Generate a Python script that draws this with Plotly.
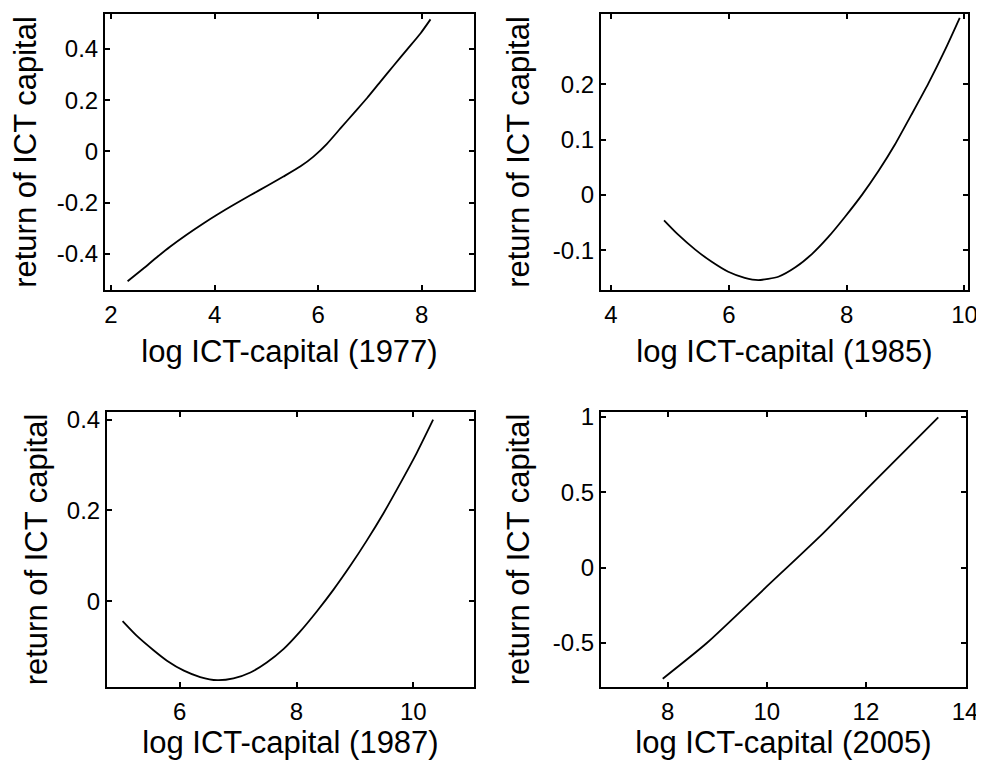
import plotly.graph_objects as go
from plotly.subplots import make_subplots

# ---- data ----
x_1977 = [2.32, 2.62, 2.88, 3.14, 3.46, 3.79, 4.04, 4.37, 4.69, 5.01, 5.33, 5.66, 5.91, 6.17, 6.43, 6.69, 6.95, 7.20, 7.46, 7.72, 7.98, 8.17]
y_1977 = [-0.507, -0.458, -0.414, -0.372, -0.325, -0.280, -0.248, -0.208, -0.171, -0.135, -0.098, -0.058, -0.020, 0.030, 0.090, 0.150, 0.210, 0.272, 0.336, 0.399, 0.462, 0.516]

x_1985 = [4.90, 5.14, 5.43, 5.71, 5.99, 6.27, 6.50, 6.84, 7.13, 7.41, 7.69, 7.97, 8.26, 8.54, 8.82, 9.10, 9.39, 9.67, 9.92]
y_1985 = [-0.046, -0.072, -0.099, -0.121, -0.139, -0.150, -0.154, -0.148, -0.131, -0.107, -0.076, -0.040, 0.000, 0.043, 0.091, 0.145, 0.202, 0.262, 0.320]

x_1987 = [5.02, 5.26, 5.55, 5.78, 6.07, 6.35, 6.64, 6.92, 7.21, 7.49, 7.78, 8.06, 8.35, 8.63, 8.92, 9.20, 9.49, 9.77, 10.06, 10.34]
y_1987 = [-0.044, -0.076, -0.108, -0.131, -0.153, -0.167, -0.174, -0.170, -0.157, -0.135, -0.105, -0.067, -0.022, 0.025, 0.078, 0.133, 0.194, 0.258, 0.327, 0.400]

x_2005 = [7.90, 8.79, 9.99, 11.13, 12.07, 13.46]
y_2005 = [-0.737, -0.500, -0.128, 0.226, 0.540, 0.997]

years = ["1977", "1985", "1987", "2005"]

xtick_1977 = [2, 4, 6, 8]
ytick_1977 = [-0.4, -0.2, 0, 0.2, 0.4]
ytext_1977 = ["-0.4", "-0.2", "0", "0.2", "0.4"]

xtick_1985 = [4, 6, 8, 10]
ytick_1985 = [-0.1, 0, 0.1, 0.2]
ytext_1985 = ["-0.1", "0", "0.1", "0.2"]

xtick_1987 = [6, 8, 10]
ytick_1987 = [0, 0.2, 0.4]
ytext_1987 = ["0", "0.2", "0.4"]

xtick_2005 = [8, 10, 12, 14]
ytick_2005 = [-0.5, 0, 0.5, 1]
ytext_2005 = ["-0.5", "0", "0.5", "1"]

xs = [x_1977, x_1985, x_1987, x_2005]
ys = [y_1977, y_1985, y_1987, y_2005]
xticks = [xtick_1977, xtick_1985, xtick_1987, xtick_2005]
yticks = [ytick_1977, ytick_1985, ytick_1987, ytick_2005]
ytexts = [ytext_1977, ytext_1985, ytext_1987, ytext_2005]

xranges = [[1.884, 9.01], [3.83, 10.06], [4.753, 11.04], [6.654, 14.02]]
yranges = [[-0.541, 0.537], [-0.172, 0.327], [-0.189, 0.417], [-0.792, 1.033]]

# page is offset by the default 8px body margin
OFF = 8
W, H = 984 - OFF, 767 - OFF
# pixel boxes in page coords (left, right, top, bottom)
boxes = [(105, 474, 14, 290), (601, 968, 14, 290), (107, 474, 412, 687), (601, 966, 412, 687)]
xt_standoff = [14, 14, 6, 6]
yt_standoff = [12, 14, 10, 14]

FONT = "Arial, Liberation Sans, sans-serif"

fig = make_subplots(rows=2, cols=2)
pos = [(1, 1), (1, 2), (2, 1), (2, 2)]
for i in range(4):
    r, c = pos[i]
    fig.add_trace(go.Scatter(x=xs[i], y=ys[i], mode="lines",
                             line=dict(color="black", width=1.8, shape="spline", smoothing=0.6),
                             showlegend=False), row=r, col=c)

layout_upd = {}
for i in range(4):
    l, rr, t, b = [v - OFF for v in boxes[i]]
    xa = "xaxis" if i == 0 else f"xaxis{i+1}"
    ya = "yaxis" if i == 0 else f"yaxis{i+1}"
    layout_upd[xa] = dict(
        domain=[l / W, rr / W], range=xranges[i], tickvals=xticks[i],
        ticktext=[str(v) for v in xticks[i]],
        showgrid=False, zeroline=False, showline=True, linecolor="black", linewidth=2,
        mirror="ticks", ticks="inside", ticklen=5, tickwidth=1.5, tickcolor="black",
        tickfont=dict(family=FONT, size=24, color="black"), ticklabelstandoff=2,
        title=dict(text=f"log ICT-capital ({years[i]})", font=dict(family=FONT, size=31, color="black"),
                   standoff=xt_standoff[i]),
        automargin=False,
    )
    layout_upd[ya] = dict(
        domain=[1 - b / H, 1 - t / H], range=yranges[i], tickvals=yticks[i],
        ticktext=ytexts[i],
        showgrid=False, zeroline=False, showline=True, linecolor="black", linewidth=2,
        mirror="ticks", ticks="inside", ticklen=5, tickwidth=1.5, tickcolor="black",
        tickfont=dict(family=FONT, size=24, color="black"), ticklabelstandoff=0,
        title=dict(text="return of ICT capital", font=dict(family=FONT, size=31, color="black"),
                   standoff=yt_standoff[i]),
        automargin=False,
    )

fig.update_layout(**layout_upd)
fig.update_layout(width=W, height=H, margin=dict(l=0, r=0, t=0, b=0),
                  plot_bgcolor="white", paper_bgcolor="white")
fig.write_html("out.html")
